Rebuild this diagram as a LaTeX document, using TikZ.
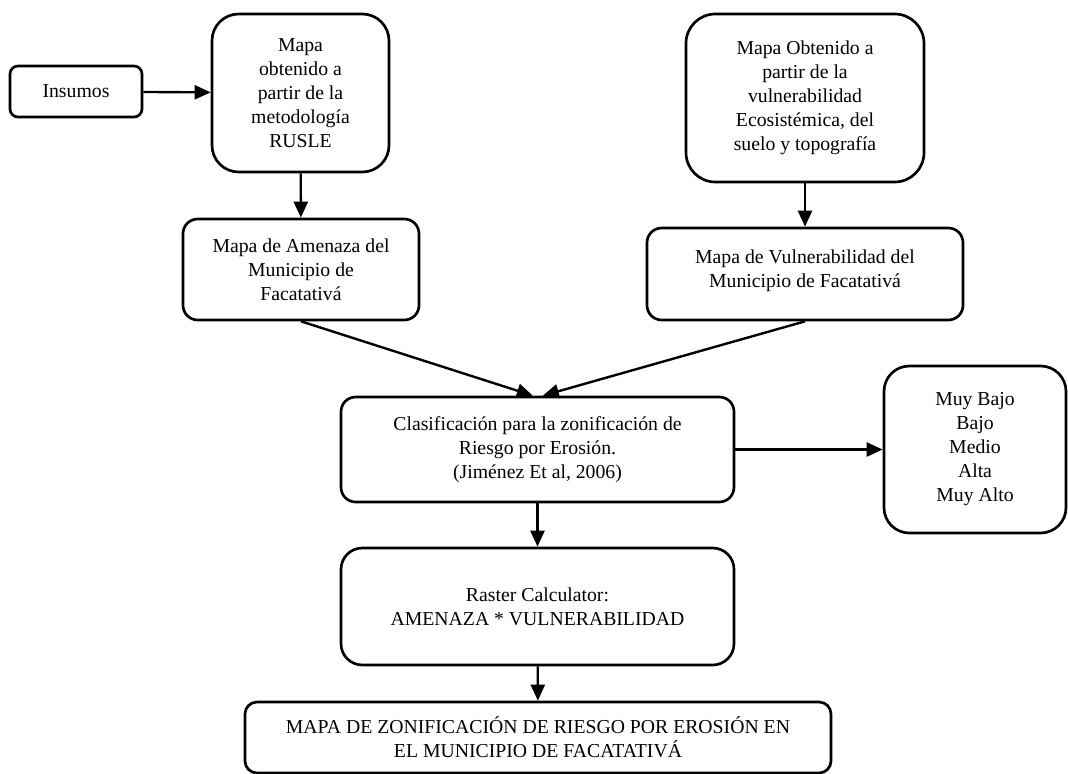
\documentclass[tikz,border=0pt]{standalone}
\usepackage{fontspec}
\setmainfont{Liberation Serif}
\usetikzlibrary{arrows.meta,positioning}

\begin{document}
\begin{tikzpicture}[
    x=0.75pt, y=-0.75pt,
    caja/.style={rectangle, draw=black, line width=2pt, rounded corners=#1,
                 align=center, inner sep=2pt, font=\fontsize{14.8}{18}\selectfont},
    caja/.default=11pt,
    arrow/.style={-{Triangle[length=12pt,width=10.5pt]}, line width=1.8pt}
]
\useasboundingbox (0,0) rectangle (1068,774);

% Entradas
\node[caja=6pt, minimum width=99pt, minimum height=38.25pt] (insumos) at (76,91.5) {Insumos};
\node[caja=20pt, minimum width=132.75pt, minimum height=118.5pt] (rusle) at (300.5,93)
    {Mapa\\obtenido a\\partir de la\\metodología\\RUSLE};
\node[caja=22pt, minimum width=178.5pt, minimum height=126pt] (ecosis) at (805,98)
    {Mapa Obtenido a\\partir de la\\vulnerabilidad\\Ecosistémica, del\\suelo y topografía};

% Mapas intermedios
\node[caja, minimum width=177pt, minimum height=75.75pt] (amenaza) at (301,269.5)
    {Mapa de Amenaza del\\Municipio de\\Facatativá};
\node[caja, minimum width=237pt, minimum height=69pt] (vulner) at (805,274)
    {Mapa de Vulnerabilidad del\\Municipio de Facatativá\\[-10pt]};

% Clasificacion
\node[caja, minimum width=294.75pt, minimum height=78.75pt] (clasif) at (537.5,449.5)
    {Clasificación para la zonificación de\\Riesgo por Erosión.\\(Jiménez Et al, 2006)};
\node[caja=19pt, minimum width=136.5pt, minimum height=125.25pt] (niveles) at (975,449.5)
    {Muy Bajo\\Bajo\\Medio\\Alta\\Muy Alto};

% Resultado
\node[caja=16pt, minimum width=294.75pt, minimum height=87.75pt] (raster) at (537.5,606.5)
    {Raster Calculator:\\AMENAZA * VULNERABILIDAD};
\node[caja=9pt, minimum width=439.5pt, minimum height=53.25pt] (mapa) at (538,737.5)
    {MAPA DE ZONIFICACIÓN DE RIESGO POR EROSIÓN EN\\EL MUNICIPIO DE FACATATIVÁ};

% Conexiones
\draw[arrow] (insumos) -- (rusle);
\draw[arrow] (rusle) -- (amenaza);
\draw[arrow] (ecosis) -- (vulner);
\draw[arrow] (amenaza.south) -- ([xshift=-3.5pt]clasif.north);
\draw[arrow] (vulner.south) -- ([xshift=4pt]clasif.north);
\draw[arrow] (clasif) -- (niveles);
\draw[arrow] (clasif) -- (raster);
\draw[arrow] (raster) -- (mapa);

\end{tikzpicture}
\end{document}
